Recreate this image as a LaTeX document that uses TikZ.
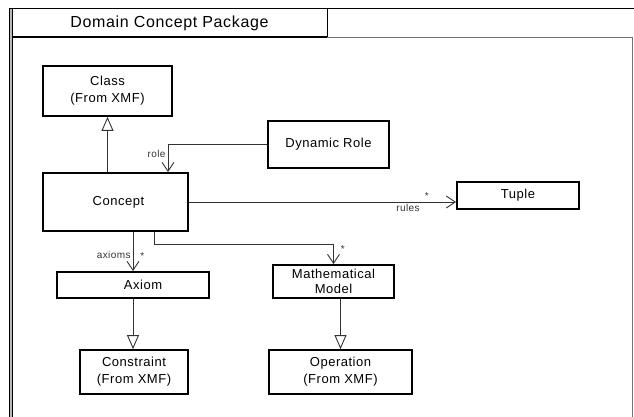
\documentclass[tikz,border=0pt]{standalone}
\usepackage{fontspec}
\setmainfont{Liberation Sans}
\newfontfamily\umlfont{Liberation Sans}[LetterSpace=4]
\usetikzlibrary{arrows.meta}
\tikzset{>=Stealth,
  umlbox/.style={draw,line width=1.8pt,inner sep=0pt,align=center,
    font=\umlfont\fontsize{13}{17}\selectfont},
  assoc/.style={draw=black!80,line width=0.9pt,
    -{Straight Barb[length=9pt,width=12pt,line width=0.9pt]}},
  gen/.style={draw=black!80,line width=0.9pt,
    -{Triangle[open,length=14pt,width=12pt,line width=0.9pt,fill=white]}},
  lbl/.style={font=\umlfont\fontsize{10}{12}\selectfont,text=black!80,inner sep=2pt}}

\begin{document}
\begin{tikzpicture}[x=1pt,y=-1pt]
  \useasboundingbox (0,0) rectangle (634,417);
  % package frame
  \fill[gray!55] (9,8) rectangle (12.5,417);
  \draw[line width=1pt] (9.5,8) -- (9.5,417) (12,9) -- (12,417);
  \draw[line width=1.8pt] (9,8.5) -- (634,8.5);
  \draw[line width=1.8pt] (12,37) -- (327,37);
  \draw[line width=1pt] (327,9) -- (327,37);
  \draw[black!55,line width=1pt] (327,38) -- (632.5,38) -- (632.5,417);
  \node[font=\umlfont\fontsize{16}{18}\selectfont] (pkg) at (169.5,23)
    {Domain Concept Package};
  % classes
  \node[umlbox,minimum width=129pt,minimum height=50pt] (cls) at (107.5,91)
    {Class\\(From XMF)};
  \node[umlbox,minimum width=121pt,minimum height=47pt] (role) at (328.5,144.5)
    {Dynamic Role};
  \node[umlbox,minimum width=145pt,minimum height=58pt] (concept) at (115.5,202)
    {\hspace*{6pt}Concept};
  \node[umlbox,minimum width=122pt,minimum height=27pt] (tuple) at (518,195.5)
    {Tuple};
  \node[umlbox,minimum width=152pt,minimum height=26pt] (axiom) at (133,285)
    {\hspace*{20pt}Axiom};
  \node[umlbox,minimum width=121pt,minimum height=33pt,
    font=\umlfont\fontsize{13}{15}\selectfont] (math) at (333.5,281.5)
    {Mathematical\\Model};
  \node[umlbox,minimum width=108pt,minimum height=44pt] (cons) at (134,372)
    {Constraint\\(From XMF)};
  \node[umlbox,minimum width=143pt,minimum height=44pt] (oper) at (340.5,372)
    {Operation\\(From XMF)};
  % relations
  \draw[gen] (concept.north -| cls.south) -- (cls.south);
  \draw[assoc] (role.west) -| ([xshift=52.5pt]concept.north)
    node[lbl,pos=0.67,left] {role};
  \draw[assoc] (concept.east) -- (concept.east -| tuple.west)
    node[lbl,pos=0.89,above] {*} node[lbl,pos=0.82,below] {rules};
  \draw[assoc] (concept.south -| axiom.north) -- (axiom.north)
    node[lbl,pos=0.59,left] {axioms} node[lbl,pos=0.62,right=5pt] {*};
  \draw[assoc] ([xshift=38.5pt]concept.south) -- ++(0,13) -| (math.north)
    node[lbl,pos=0.6,right=5pt] {*};
  \draw[gen] (axiom.south) -- (axiom.south |- cons.north);
  \draw[gen] (oper.north |- math.south) -- (oper.north);
\end{tikzpicture}
\end{document}
